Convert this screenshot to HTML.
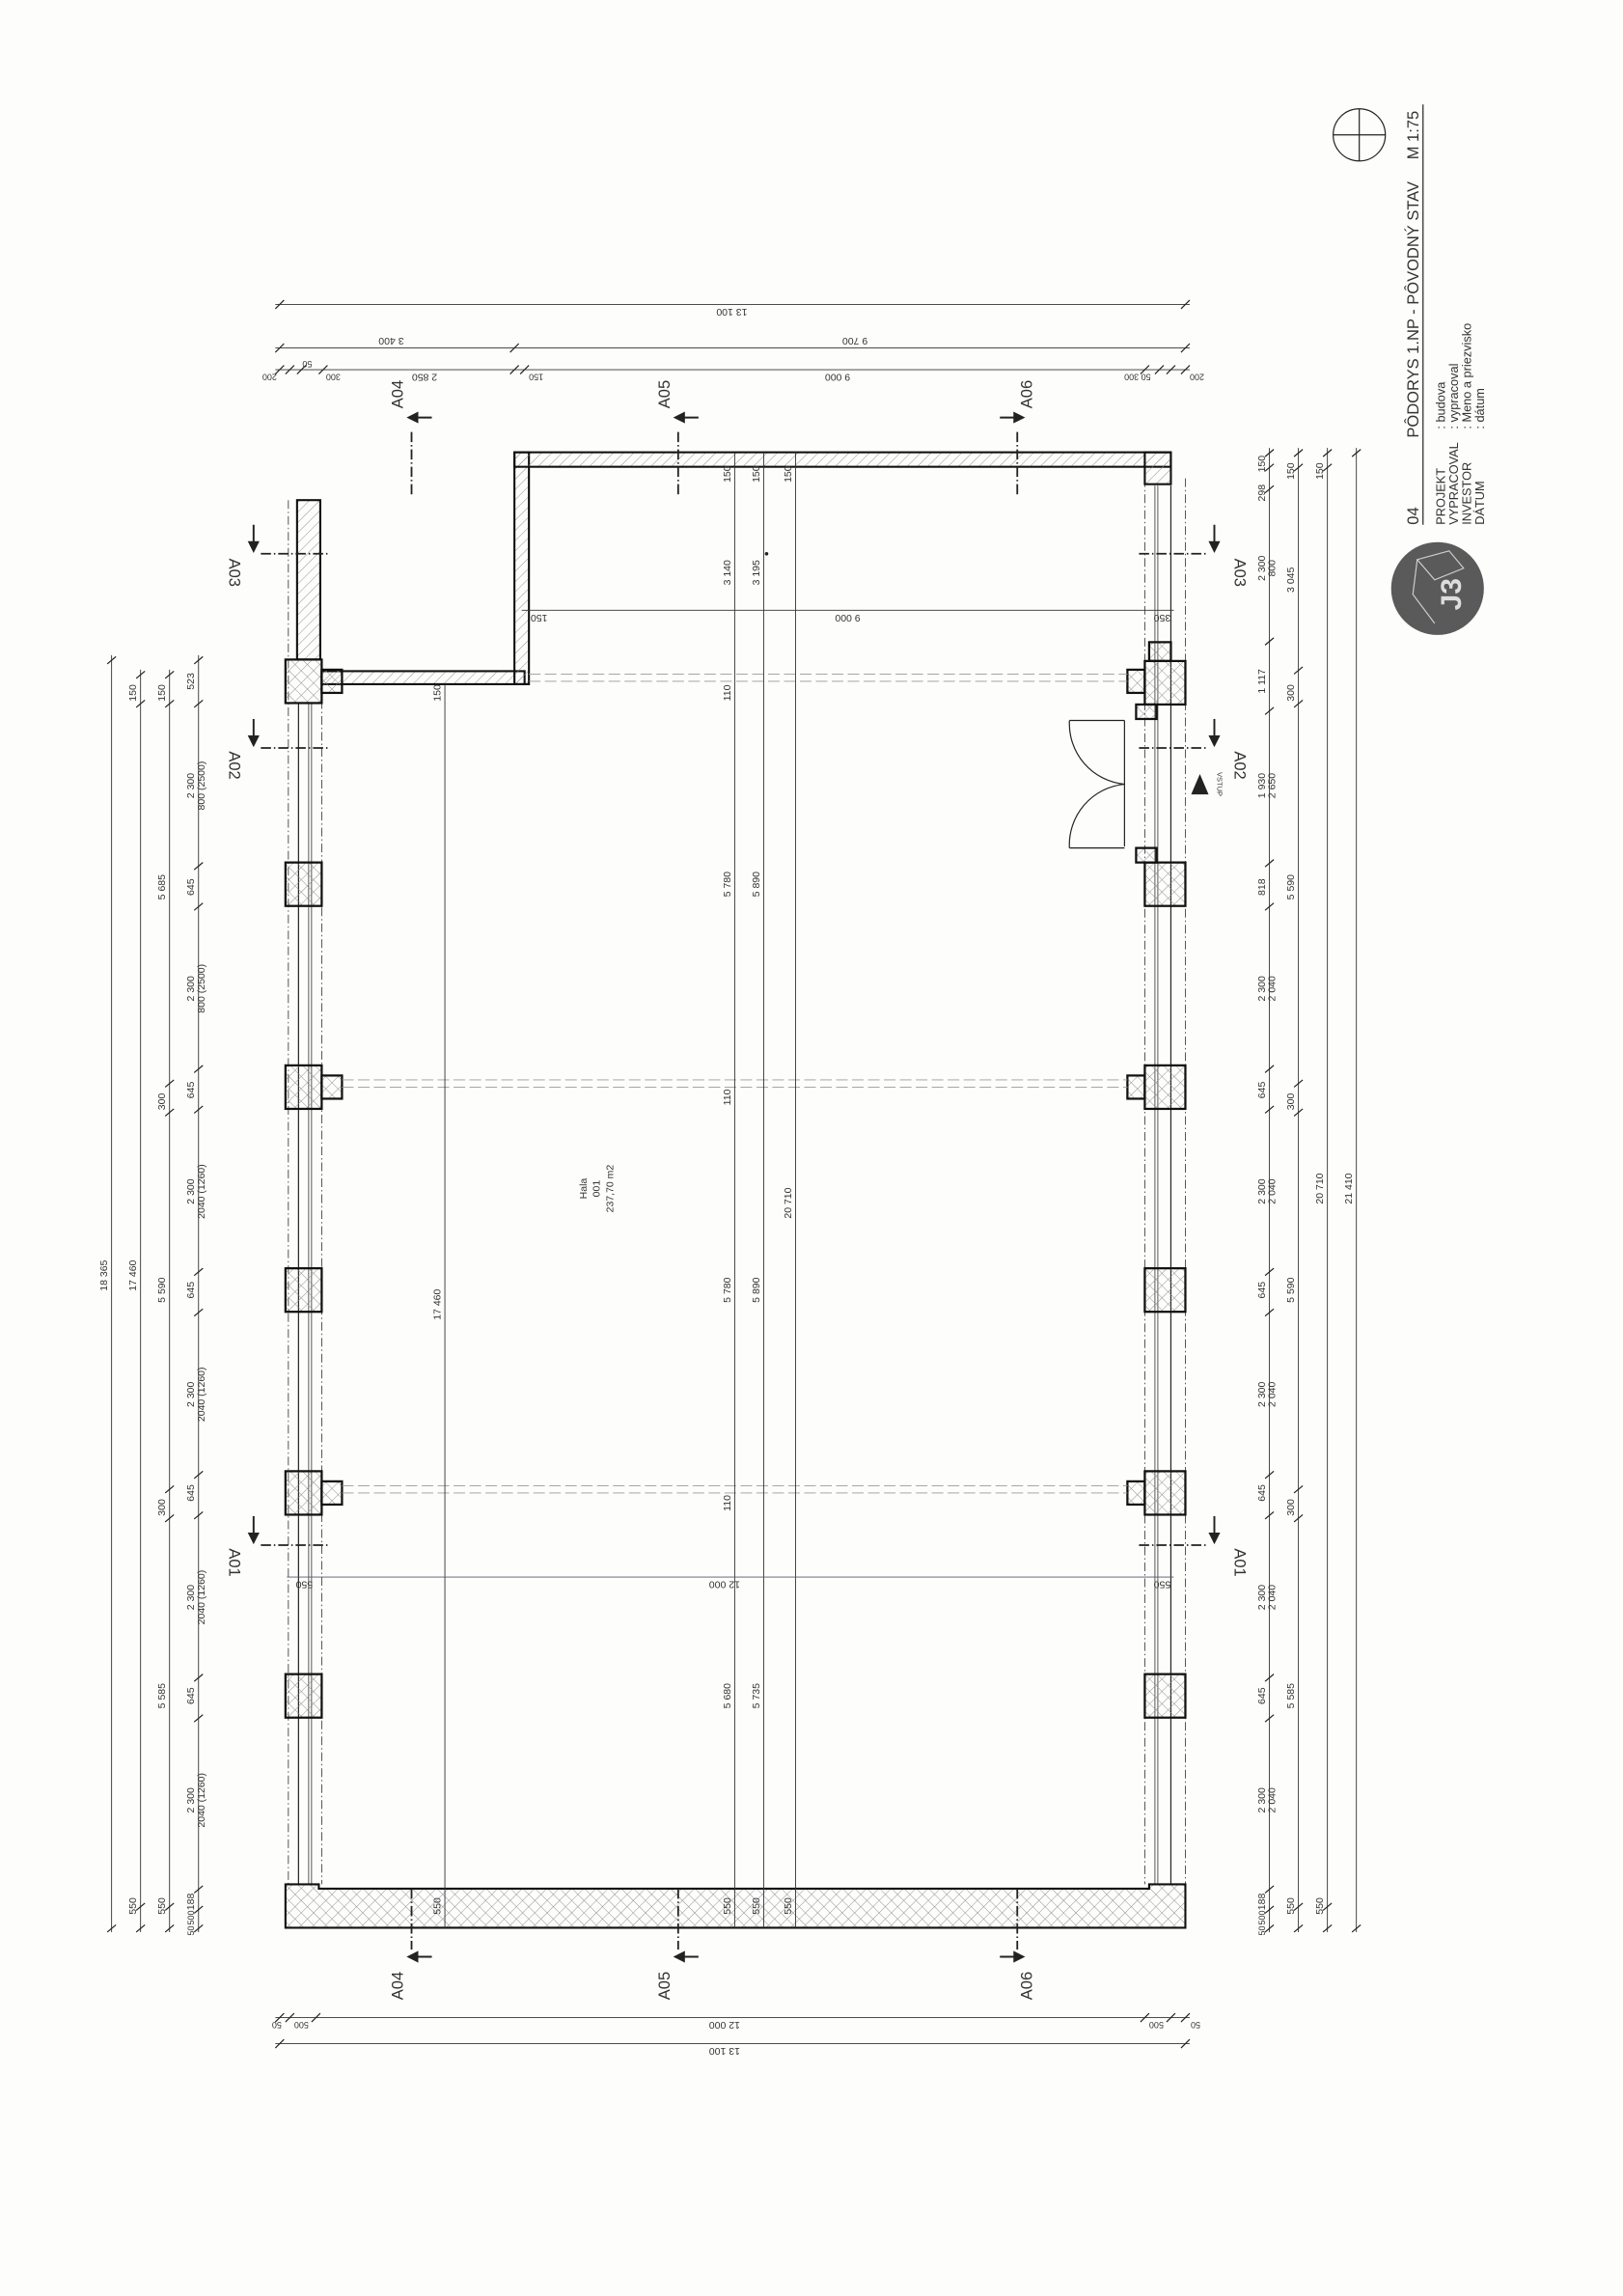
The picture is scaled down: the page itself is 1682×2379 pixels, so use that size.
<!DOCTYPE html>
<html><head><meta charset="utf-8"><style>
html,body{margin:0;padding:0;background:#fdfdfc;}
svg{display:block}
text{font-family:"Liberation Sans",sans-serif;fill:#333}
</style></head><body>
<svg width="1682" height="2379" viewBox="0 0 1120 1584" xmlns="http://www.w3.org/2000/svg">
<defs>
<pattern id="h1" width="5" height="5" patternUnits="userSpaceOnUse" patternTransform="rotate(45)"><line x1="0" y1="0" x2="0" y2="5" stroke="#888" stroke-width="0.6"/></pattern>
<pattern id="h2" width="6" height="6" patternUnits="userSpaceOnUse" patternTransform="rotate(45)"><line x1="0" y1="0" x2="0" y2="6" stroke="#888" stroke-width="0.6"/><line x1="0" y1="0" x2="6" y2="0" stroke="#888" stroke-width="0.6"/></pattern>
</defs>
<rect width="1120" height="1584" fill="#fdfdfc"/>

<g stroke="#222" fill="none">
<!-- outer dash-dot guides -->
<line x1="199" y1="345" x2="199" y2="1300" stroke-width="0.5" stroke-dasharray="6 2 1 2"/>
<line x1="222" y1="472" x2="222" y2="1300" stroke-width="0.5" stroke-dasharray="6 2 1 2"/>
<line x1="818" y1="330" x2="818" y2="1300" stroke-width="0.5" stroke-dasharray="6 2 1 2"/>
<line x1="790" y1="330" x2="790" y2="1300" stroke-width="0.5" stroke-dasharray="6 2 1 2"/>
<!-- left window lines -->
<line x1="206" y1="485" x2="206" y2="1300" stroke-width="0.8"/>
<line x1="213" y1="485" x2="213" y2="1300" stroke-width="0.5"/>
<line x1="215" y1="485" x2="215" y2="1300" stroke-width="0.5"/>
<!-- right window lines -->
<line x1="797" y1="335" x2="797" y2="1300" stroke-width="0.5"/>
<line x1="799" y1="335" x2="799" y2="1300" stroke-width="0.5"/>
<line x1="808" y1="335" x2="808" y2="1300" stroke-width="0.8"/>
</g>

<!-- walls -->
<g stroke="#111" stroke-width="1.4">
<rect x="205" y="345" width="16" height="110" fill="url(#h1)"/>
<rect x="222" y="463" width="140" height="9" fill="url(#h1)"/>
<rect x="355" y="312" width="10" height="160" fill="url(#h1)"/>
<rect x="355" y="312" width="453" height="10" fill="url(#h1)"/>
<rect x="790" y="312" width="18" height="22" fill="url(#h1)"/>
<path d="M197 1300 H220 V1303 H793 V1300 H818 V1330 H197 Z" fill="url(#h2)"/>
</g>

<!-- columns left -->
<g stroke="#111" stroke-width="1.5" fill="url(#h2)">
<rect x="197" y="455" width="25" height="30"/><rect x="222" y="462" width="14" height="16"/>
<rect x="197" y="595" width="25" height="30"/>
<rect x="197" y="735" width="25" height="30"/><rect x="222" y="742" width="14" height="16"/>
<rect x="197" y="875" width="25" height="30"/>
<rect x="197" y="1015" width="25" height="30"/><rect x="222" y="1022" width="14" height="16"/>
<rect x="197" y="1155" width="25" height="30"/>
<!-- right -->
<rect x="793" y="443" width="15" height="13"/>
<rect x="790" y="456" width="28" height="30"/><rect x="778" y="462" width="12" height="16"/><rect x="784" y="486" width="14" height="10"/>
<rect x="784" y="585" width="14" height="10"/>
<rect x="790" y="595" width="28" height="30"/>
<rect x="790" y="735" width="28" height="30"/><rect x="778" y="742" width="12" height="16"/>
<rect x="790" y="875" width="28" height="30"/>
<rect x="790" y="1015" width="28" height="30"/><rect x="778" y="1022" width="12" height="16"/>
<rect x="790" y="1155" width="28" height="30"/>
</g>

<!-- door -->
<g stroke="#222" stroke-width="0.8" fill="none">
<line x1="776" y1="497" x2="776" y2="584"/>
<line x1="738" y1="497" x2="776" y2="497"/>
<line x1="738" y1="585" x2="776" y2="585"/>
<path d="M738 497 A42 42 0 0 0 776 541"/>
<path d="M738 585 A42 42 0 0 1 776 541"/>
</g>
<polygon points="822,548 834,548 828,534" fill="#222"/>
<text transform="translate(840,541) rotate(90)" font-size="5" text-anchor="middle">VSTUP</text>

<!-- beam dashed lines -->
<g stroke="#999" stroke-width="0.6" stroke-dasharray="8 3">
<line x1="365" y1="465" x2="778" y2="465"/><line x1="365" y1="470" x2="778" y2="470"/>
<line x1="236" y1="745" x2="778" y2="745"/><line x1="236" y1="750" x2="778" y2="750"/>
<line x1="236" y1="1025" x2="778" y2="1025"/><line x1="236" y1="1030" x2="778" y2="1030"/>
</g>

<!-- interior dimension lines -->
<g stroke="#333" stroke-width="0.6">
<line x1="307" y1="472" x2="307" y2="1330"/>
<line x1="507" y1="312" x2="507" y2="1330"/>
<line x1="527" y1="312" x2="527" y2="1330"/>
<line x1="549" y1="312" x2="549" y2="1330"/>
<line x1="360" y1="421" x2="810" y2="421"/>
<line x1="198" y1="1088" x2="810" y2="1088" stroke="#556"/>
</g>
<g font-size="7">
<text transform="translate(304,478) rotate(-90)" text-anchor="middle">150</text>
<text transform="translate(304,900) rotate(-90)" text-anchor="middle">17 460</text>
<text transform="translate(304,1315) rotate(-90)" text-anchor="middle">550</text>
<text transform="translate(504,327) rotate(-90)" text-anchor="middle">150</text>
<text transform="translate(504,395) rotate(-90)" text-anchor="middle">3 140</text>
<text transform="translate(504,478) rotate(-90)" text-anchor="middle">110</text>
<text transform="translate(504,610) rotate(-90)" text-anchor="middle">5 780</text>
<text transform="translate(504,757) rotate(-90)" text-anchor="middle">110</text>
<text transform="translate(504,890) rotate(-90)" text-anchor="middle">5 780</text>
<text transform="translate(504,1037) rotate(-90)" text-anchor="middle">110</text>
<text transform="translate(504,1170) rotate(-90)" text-anchor="middle">5 680</text>
<text transform="translate(504,1315) rotate(-90)" text-anchor="middle">550</text>
<text transform="translate(524,327) rotate(-90)" text-anchor="middle">150</text>
<text transform="translate(524,395) rotate(-90)" text-anchor="middle">3 195</text>
<text transform="translate(524,610) rotate(-90)" text-anchor="middle">5 890</text>
<text transform="translate(524,890) rotate(-90)" text-anchor="middle">5 890</text>
<text transform="translate(524,1170) rotate(-90)" text-anchor="middle">5 735</text>
<text transform="translate(524,1315) rotate(-90)" text-anchor="middle">550</text>
<text transform="translate(546,327) rotate(-90)" text-anchor="middle">150</text>
<text transform="translate(546,830) rotate(-90)" text-anchor="middle">20 710</text>
<text transform="translate(546,1315) rotate(-90)" text-anchor="middle">550</text>
<text transform="translate(372,424) rotate(180)" text-anchor="middle">150</text>
<text transform="translate(585,424) rotate(180)" text-anchor="middle">9 000</text>
<text transform="translate(802,424) rotate(180)" text-anchor="middle">350</text>
<text transform="translate(210,1091) rotate(180)" text-anchor="middle">550</text>
<text transform="translate(500,1091) rotate(180)" text-anchor="middle">12 000</text>
<text transform="translate(802,1091) rotate(180)" text-anchor="middle">550</text>
</g>
<circle cx="529" cy="382" r="1.2" fill="#222"/>

<!-- room label -->
<g font-size="7" text-anchor="middle">
<text transform="translate(405,820) rotate(-90)">Hala</text>
<text transform="translate(414,820) rotate(-90)">001</text>
<text transform="translate(423,820) rotate(-90)">237,70 m2</text>
</g>

<!-- section markers -->
<g stroke="#222" stroke-width="1.2" stroke-dasharray="7 2 1 2" fill="none">
<line x1="284" y1="298" x2="284" y2="342"/><line x1="468" y1="298" x2="468" y2="342"/><line x1="702" y1="298" x2="702" y2="342"/>
<line x1="284" y1="1303" x2="284" y2="1345"/><line x1="468" y1="1303" x2="468" y2="1345"/><line x1="702" y1="1303" x2="702" y2="1345"/>
<line x1="180" y1="382" x2="228" y2="382"/><line x1="180" y1="516" x2="228" y2="516"/><line x1="180" y1="1066" x2="228" y2="1066"/>
<line x1="786" y1="382" x2="832" y2="382"/><line x1="786" y1="516" x2="832" y2="516"/><line x1="786" y1="1066" x2="832" y2="1066"/>
</g>
<g stroke="#222" stroke-width="1.3" fill="#222">
<line x1="298" y1="288" x2="286" y2="288"/><polygon points="282,288 288,285 288,291"/>
<line x1="482" y1="288" x2="470" y2="288"/><polygon points="466,288 472,285 472,291"/>
<line x1="690" y1="288" x2="702" y2="288"/><polygon points="706,288 700,285 700,291"/>
<line x1="298" y1="1350" x2="286" y2="1350"/><polygon points="282,1350 288,1347 288,1353"/>
<line x1="482" y1="1350" x2="470" y2="1350"/><polygon points="466,1350 472,1347 472,1353"/>
<line x1="690" y1="1350" x2="702" y2="1350"/><polygon points="706,1350 700,1347 700,1353"/>
<line x1="175" y1="362" x2="175" y2="376"/><polygon points="175,380 172,374 178,374"/>
<line x1="175" y1="496" x2="175" y2="510"/><polygon points="175,514 172,508 178,508"/>
<line x1="175" y1="1046" x2="175" y2="1060"/><polygon points="175,1064 172,1058 178,1058"/>
<line x1="838" y1="362" x2="838" y2="376"/><polygon points="838,380 835,374 841,374"/>
<line x1="838" y1="496" x2="838" y2="510"/><polygon points="838,514 835,508 841,508"/>
<line x1="838" y1="1046" x2="838" y2="1060"/><polygon points="838,1064 835,1058 841,1058"/>
</g>
<g font-size="11" text-anchor="middle">
<text transform="translate(278,272) rotate(-90)">A04</text>
<text transform="translate(462,272) rotate(-90)">A05</text>
<text transform="translate(712,272) rotate(-90)">A06</text>
<text transform="translate(278,1370) rotate(-90)">A04</text>
<text transform="translate(462,1370) rotate(-90)">A05</text>
<text transform="translate(712,1370) rotate(-90)">A06</text>
<text transform="translate(158,395) rotate(90)">A03</text>
<text transform="translate(158,528) rotate(90)">A02</text>
<text transform="translate(158,1078) rotate(90)">A01</text>
<text transform="translate(852,395) rotate(90)">A03</text>
<text transform="translate(852,528) rotate(90)">A02</text>
<text transform="translate(852,1078) rotate(90)">A01</text>
</g>

<!-- left dimension chains -->
<g stroke="#333" stroke-width="0.6">
<line x1="77" y1="452" x2="77" y2="1333"/>
<line x1="97" y1="462" x2="97" y2="1333"/>
<line x1="117" y1="462" x2="117" y2="1333"/>
<line x1="137" y1="452" x2="137" y2="1333"/>
<line x1="876" y1="309" x2="876" y2="1333"/>
<line x1="896" y1="309" x2="896" y2="1333"/>
<line x1="916" y1="309" x2="916" y2="1333"/>
<line x1="936" y1="309" x2="936" y2="1333"/>
<line x1="190" y1="210" x2="821" y2="210"/>
<line x1="190" y1="240" x2="821" y2="240"/>
<line x1="190" y1="255" x2="821" y2="255"/>
<line x1="190" y1="1392" x2="821" y2="1392"/>
<line x1="190" y1="1410" x2="821" y2="1410"/>
</g>
<!-- ticks -->
<g stroke="#222" stroke-width="0.8">
<path d="M74 458 l6 -5 M74 1333 l6 -5 M94 468 l6 -5 M94 488 l6 -5 M94 1318 l6 -5 M94 1333 l6 -5
M114 468 l6 -5 M114 488 l6 -5 M114 750 l6 -5 M114 770 l6 -5 M114 1030 l6 -5 M114 1050 l6 -5 M114 1318 l6 -5 M114 1333 l6 -5
M134 458 l6 -5 M134 488 l6 -5 M134 600 l6 -5 M134 628 l6 -5 M134 740 l6 -5 M134 768 l6 -5 M134 880 l6 -5 M134 908 l6 -5 M134 1020 l6 -5 M134 1048 l6 -5 M134 1160 l6 -5 M134 1188 l6 -5 M134 1306 l6 -5 M134 1320 l6 -5 M134 1333 l6 -5
M873 315 l6 -5 M873 325 l6 -5 M873 340 l6 -5 M873 445 l6 -5 M873 493 l6 -5 M873 598 l6 -5 M873 628 l6 -5 M873 740 l6 -5 M873 768 l6 -5 M873 880 l6 -5 M873 908 l6 -5 M873 1020 l6 -5 M873 1048 l6 -5 M873 1160 l6 -5 M873 1188 l6 -5 M873 1306 l6 -5 M873 1320 l6 -5 M873 1333 l6 -5
M893 315 l6 -5 M893 325 l6 -5 M893 465 l6 -5 M893 488 l6 -5 M893 750 l6 -5 M893 770 l6 -5 M893 1030 l6 -5 M893 1050 l6 -5 M893 1318 l6 -5 M893 1333 l6 -5
M913 315 l6 -5 M913 325 l6 -5 M913 1318 l6 -5 M913 1333 l6 -5 M933 315 l6 -5 M933 1333 l6 -5
M190 213 l6 -6 M815 213 l6 -6 M190 243 l6 -6 M352 243 l6 -6 M815 243 l6 -6
M190 258 l6 -6 M197 258 l6 -6 M205 258 l6 -6 M220 258 l6 -6 M352 258 l6 -6 M359 258 l6 -6 M787 258 l6 -6 M797 258 l6 -6 M805 258 l6 -6 M815 258 l6 -6
M190 1395 l6 -6 M197 1395 l6 -6 M215 1395 l6 -6 M787 1395 l6 -6 M805 1395 l6 -6 M815 1395 l6 -6
M190 1413 l6 -6 M815 1413 l6 -6"/>
</g>
<g font-size="7" text-anchor="middle">
<text transform="translate(74,880) rotate(-90)">18 365</text>
<text transform="translate(94,478) rotate(-90)">150</text>
<text transform="translate(94,880) rotate(-90)">17 460</text>
<text transform="translate(94,1315) rotate(-90)">550</text>
<text transform="translate(114,478) rotate(-90)">150</text>
<text transform="translate(114,612) rotate(-90)">5 685</text>
<text transform="translate(114,760) rotate(-90)">300</text>
<text transform="translate(114,890) rotate(-90)">5 590</text>
<text transform="translate(114,1040) rotate(-90)">300</text>
<text transform="translate(114,1170) rotate(-90)">5 585</text>
<text transform="translate(114,1315) rotate(-90)">550</text>
<text transform="translate(134,470) rotate(-90)">523</text>
<text transform="translate(134,542) rotate(-90)">2 300</text><text transform="translate(141,542) rotate(-90)">800 (2500)</text>
<text transform="translate(134,612) rotate(-90)">645</text>
<text transform="translate(134,682) rotate(-90)">2 300</text><text transform="translate(141,682) rotate(-90)">800 (2500)</text>
<text transform="translate(134,752) rotate(-90)">645</text>
<text transform="translate(134,822) rotate(-90)">2 300</text><text transform="translate(141,822) rotate(-90)">2040 (1260)</text>
<text transform="translate(134,890) rotate(-90)">645</text>
<text transform="translate(134,962) rotate(-90)">2 300</text><text transform="translate(141,962) rotate(-90)">2040 (1260)</text>
<text transform="translate(134,1030) rotate(-90)">645</text>
<text transform="translate(134,1102) rotate(-90)">2 300</text><text transform="translate(141,1102) rotate(-90)">2040 (1260)</text>
<text transform="translate(134,1170) rotate(-90)">645</text>
<text transform="translate(134,1242) rotate(-90)">2 300</text><text transform="translate(141,1242) rotate(-90)">2040 (1260)</text>
<text transform="translate(134,1312) rotate(-90)">188</text>
<text transform="translate(134,1323) rotate(-90)" font-size="6">500</text>
<text transform="translate(134,1332) rotate(-90)" font-size="6">50</text>
<!-- right -->
<text transform="translate(873,320) rotate(-90)">150</text>
<text transform="translate(873,340) rotate(-90)">298</text>
<text transform="translate(873,392) rotate(-90)">2 300</text><text transform="translate(880,392) rotate(-90)">800</text>
<text transform="translate(873,470) rotate(-90)">1 117</text>
<text transform="translate(873,542) rotate(-90)">1 930</text><text transform="translate(880,542) rotate(-90)">2 650</text>
<text transform="translate(873,612) rotate(-90)">818</text>
<text transform="translate(873,682) rotate(-90)">2 300</text><text transform="translate(880,682) rotate(-90)">2 040</text>
<text transform="translate(873,752) rotate(-90)">645</text>
<text transform="translate(873,822) rotate(-90)">2 300</text><text transform="translate(880,822) rotate(-90)">2 040</text>
<text transform="translate(873,890) rotate(-90)">645</text>
<text transform="translate(873,962) rotate(-90)">2 300</text><text transform="translate(880,962) rotate(-90)">2 040</text>
<text transform="translate(873,1030) rotate(-90)">645</text>
<text transform="translate(873,1102) rotate(-90)">2 300</text><text transform="translate(880,1102) rotate(-90)">2 040</text>
<text transform="translate(873,1170) rotate(-90)">645</text>
<text transform="translate(873,1242) rotate(-90)">2 300</text><text transform="translate(880,1242) rotate(-90)">2 040</text>
<text transform="translate(873,1312) rotate(-90)">188</text>
<text transform="translate(873,1323) rotate(-90)" font-size="6">500</text>
<text transform="translate(873,1332) rotate(-90)" font-size="6">50</text>
<text transform="translate(893,325) rotate(-90)">150</text>
<text transform="translate(893,400) rotate(-90)">3 045</text>
<text transform="translate(893,478) rotate(-90)">300</text>
<text transform="translate(893,612) rotate(-90)">5 590</text>
<text transform="translate(893,760) rotate(-90)">300</text>
<text transform="translate(893,890) rotate(-90)">5 590</text>
<text transform="translate(893,1040) rotate(-90)">300</text>
<text transform="translate(893,1170) rotate(-90)">5 585</text>
<text transform="translate(893,1315) rotate(-90)">550</text>
<text transform="translate(913,325) rotate(-90)" fill="#999">150</text>
<text transform="translate(913,820) rotate(-90)" fill="#999">20 710</text>
<text transform="translate(913,1315) rotate(-90)" fill="#999">550</text>
<text transform="translate(933,820) rotate(-90)">21 410</text>
<!-- top -->
<text transform="translate(505,213) rotate(180)">13 100</text>
<text transform="translate(270,233) rotate(180)">3 400</text>
<text transform="translate(590,233) rotate(180)">9 700</text>
<text transform="translate(186,258) rotate(180)" font-size="6">200</text>
<text transform="translate(212,249) rotate(180)" font-size="6">50</text>
<text transform="translate(230,258) rotate(180)" font-size="6">300</text>
<text transform="translate(293,258) rotate(180)">2 850</text>
<text transform="translate(370,258) rotate(180)" font-size="6">150</text>
<text transform="translate(578,258) rotate(180)">9 000</text>
<text transform="translate(785,258) rotate(180)" font-size="6">50 300</text>
<text transform="translate(826,258) rotate(180)" font-size="6">200</text>
<!-- bottom -->
<text transform="translate(500,1395) rotate(180)">12 000</text>
<text transform="translate(208,1395) rotate(180)" font-size="6">500</text>
<text transform="translate(191,1395) rotate(180)" font-size="6">50</text>
<text transform="translate(798,1395) rotate(180)" font-size="6">500</text>
<text transform="translate(825,1395) rotate(180)" font-size="6">50</text>
<text transform="translate(500,1413) rotate(180)">13 100</text>
</g>

<!-- title block -->
<g stroke="#222" stroke-width="0.8" fill="none">
<circle cx="938" cy="93" r="18"/>
<line x1="920" y1="93" x2="956" y2="93"/>
<line x1="938" y1="75" x2="938" y2="111"/>
<line x1="982" y1="72" x2="982" y2="362"/>
</g>
<g font-size="11">
<text transform="translate(979,362) rotate(-90)">04</text>
<text transform="translate(979,302) rotate(-90)">PÔDORYS 1.NP - PÔVODNÝ STAV</text>
<text transform="translate(979,110) rotate(-90)">M 1:75</text>
</g>
<g font-size="8.5">
<text transform="translate(997,362) rotate(-90)">PROJEKT</text>
<text transform="translate(1006,362) rotate(-90)">VYPRACOVAL</text>
<text transform="translate(1015,362) rotate(-90)">INVESTOR</text>
<text transform="translate(1024,362) rotate(-90)">DÁTUM</text>
<text transform="translate(997,296) rotate(-90)">: budova</text>
<text transform="translate(1006,296) rotate(-90)">: vypracoval</text>
<text transform="translate(1015,296) rotate(-90)">: Meno a priezvisko</text>
<text transform="translate(1024,296) rotate(-90)">: dátum</text>
</g>
<circle cx="992" cy="406" r="32" fill="#5a5a5a"/>
<g stroke="#ccc" stroke-width="0.8" fill="none">
<path d="M978 386 L1000 380 L1010 392 L990 400 Z"/>
<path d="M978 386 L975 410 L990 430"/>
</g>
<text transform="translate(1008,410) rotate(-90)" font-size="20" text-anchor="middle" style="fill:#ddd;font-weight:bold">J3</text>
</svg>
</body></html>
